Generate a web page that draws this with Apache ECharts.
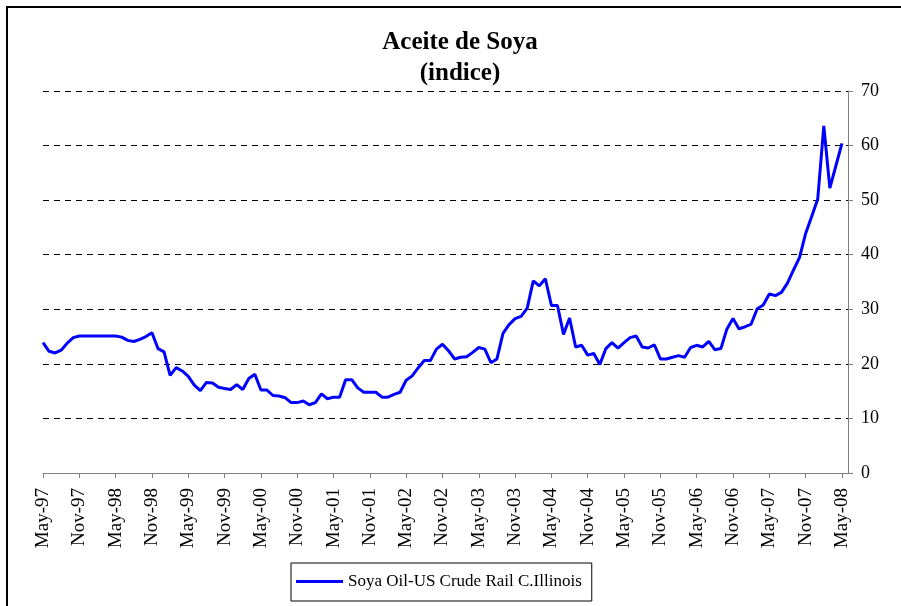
<!DOCTYPE html>
<html>
<head>
<meta charset="utf-8">
<title>Aceite de Soya</title>
<script src="https://cdn.jsdelivr.net/npm/echarts@6/dist/echarts.min.js"></script>
<style>
  html, body { margin: 0; padding: 0; background: #fff; }
  #chart { width: 901px; height: 606px; }
</style>
</head>
<body>
<div id="chart"></div>
<script>
// meses May-97 .. May-08
var monthNames = ['Jan','Feb','Mar','Apr','May','Jun','Jul','Aug','Sep','Oct','Nov','Dec'];
var startYear = 1997, startMonth = 4, monthCount = 133;

// indice mensual
var soyaOil = [
  23.9, 22.3, 22.0, 22.5, 23.8, 24.8, 25.1, 25.1, 25.1, 25.1, 25.1, 25.1,
  25.1, 24.9, 24.3, 24.1, 24.5, 25.0, 25.7, 22.8, 22.2, 17.9, 19.3, 18.7,
  17.7, 16.1, 15.1, 16.6, 16.5, 15.7, 15.5, 15.3, 16.2, 15.3, 17.3, 18.1,
  15.2, 15.2, 14.2, 14.1, 13.8, 12.9, 12.9, 13.2, 12.5, 12.9, 14.5, 13.6,
  13.9, 13.9, 17.1, 17.1, 15.6, 14.8, 14.8, 14.8, 13.9, 13.9, 14.4, 14.8,
  17.0, 17.8, 19.3, 20.6, 20.6, 22.7, 23.6, 22.4, 20.9, 21.2, 21.3, 22.1,
  23.0, 22.7, 20.2, 20.9, 25.6, 27.2, 28.3, 28.7, 30.2, 35.2, 34.3, 35.6,
  30.7, 30.7, 25.4, 28.4, 23.1, 23.4, 21.6, 21.9, 19.9, 22.8, 23.9, 22.9,
  23.9, 24.8, 25.1, 23.1, 22.9, 23.5, 20.9, 20.9, 21.2, 21.5, 21.2, 23.0,
  23.4, 23.1, 24.1, 22.6, 22.8, 26.4, 28.3, 26.4, 26.8, 27.3, 30.1, 30.8,
  32.8, 32.5, 33.1, 34.8, 37.2, 39.5, 43.9, 47.0, 50.2, 63.6, 52.2, 56.3,
  60.4
];

var seriesName = 'Soya Oil-US Crude Rail C.Illinois';
var yTicks = [0, 10, 20, 30, 40, 50, 60, 70];

var months = [];
for (var k = 0; k < monthCount; k++) {
  var m = (startMonth + k) % 12;
  var y = startYear + Math.floor((startMonth + k) / 12);
  months.push(monthNames[m] + '-' + String(y).slice(2));
}
// una categoria vacia al final para que el eje siga un poco despues de May-08
months.push('');

var serif = "'Liberation Serif', 'Times New Roman', serif";

var myChart = echarts.init(document.getElementById('chart'));
myChart.setOption({
  animation: false,
  backgroundColor: '#fff',
  graphic: [
    {
      type: 'rect',
      shape: { x: 7, y: 7, width: 1000, height: 1000 },
      style: { fill: 'none', stroke: '#000', lineWidth: 2 },
      silent: true
    },
    {
      type: 'text',
      x: 460, y: 43,
      style: {
        text: 'Aceite de Soya',
        font: 'bold 25px ' + serif,
        fill: '#000',
        align: 'center',
        verticalAlign: 'middle'
      }
    },
    {
      type: 'text',
      x: 460, y: 74,
      style: {
        text: '(indice)',
        font: 'bold 25px ' + serif,
        fill: '#000',
        align: 'center',
        verticalAlign: 'middle'
      }
    }
  ],
  grid: {
    left: 43,
    right: 53,
    top: 91,
    bottom: 133
  },
  legend: {
    left: 291,
    top: 563,
    padding: [10, 10, 11, 5],
    borderColor: '#000',
    borderWidth: 1,
    icon: 'rect',
    itemWidth: 47,
    itemHeight: 3,
    itemGap: 5,
    textStyle: { fontFamily: serif, fontSize: 17, color: '#000' },
    data: [seriesName]
  },
  xAxis: {
    type: 'category',
    boundaryGap: false,
    data: months,
    axisLine: { lineStyle: { color: '#808080', width: 1 } },
    axisTick: { interval: 5, length: 5, lineStyle: { color: '#808080' } },
    axisLabel: {
      interval: 5,
      rotate: 90,
      margin: 15,
      fontFamily: serif,
      fontSize: 19,
      color: '#000'
    },
    splitLine: { show: false }
  },
  yAxis: {
    type: 'value',
    position: 'right',
    min: yTicks[0],
    max: yTicks[yTicks.length - 1],
    interval: 10,
    axisLine: { show: true, lineStyle: { color: '#808080', width: 1 } },
    axisTick: { show: true, length: 5, lineStyle: { color: '#808080' } },
    axisLabel: {
      margin: 13,
      fontFamily: serif,
      fontSize: 18,
      color: '#000'
    },
    splitLine: {
      show: true,
      lineStyle: { color: '#000', width: 1, type: [6, 5] }
    }
  },
  series: [
    {
      name: seriesName,
      type: 'line',
      data: soyaOil,
      symbol: 'none',
      lineStyle: { color: '#0000ff', width: 3 },
      itemStyle: { color: '#0000ff' }
    }
  ]
});
</script>
</body>
</html>
